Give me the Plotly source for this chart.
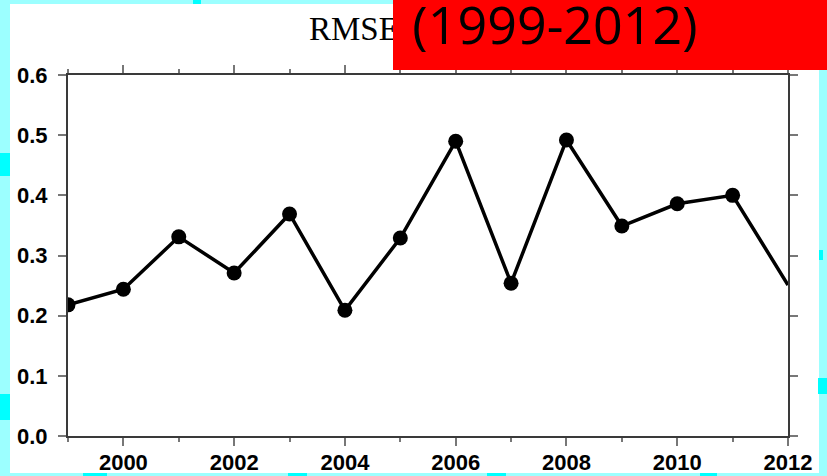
import plotly.graph_objects as go

# Annual RMSE, 1999-2012
years = list(range(1999, 2013))
rmse = [0.218, 0.244, 0.331, 0.271, 0.369, 0.209, 0.329,
        0.490, 0.254, 0.492, 0.349, 0.386, 0.400, 0.251]
marker_sizes = [15] * 13 + [0]

y_ticks = [0.0, 0.1, 0.2, 0.3, 0.4, 0.5, 0.6]
x_ticks = [2000, 2002, 2004, 2006, 2008, 2010, 2012]

W, H = 827, 476
L, R, T, B = 68, 39, 75, 40
PW, PH = W - L - R, H - T - B


def px(x0, y0, x1, y1):
    """Pixel box -> paper coordinates."""
    return dict(x0=(x0 - L) / PW, x1=(x1 - L) / PW,
                y0=1 - (y0 - T) / PH, y1=1 - (y1 - T) / PH,
                xref="paper", yref="paper")


LIGHT_CYAN = "#9cffff"
CYAN = "#00ffff"

shapes = [
    # white page on the cyan frame
    dict(type="rect", **px(10, 4, 819, 473), fillcolor="white",
         line_width=0, layer="below"),
]
# cyan spots along the frame
for box in [(193, 0, 201, 4), (0, 153, 10, 176), (0, 394, 10, 420),
            (818, 378, 827, 394), (819, 250, 823, 260),
            (83, 473, 107, 476), (288, 473, 307, 476),
            (487, 473, 506, 476), (700, 473, 717, 476)]:
    shapes.append(dict(type="rect", **px(*box), fillcolor=CYAN,
                       line_width=0, layer="below"))

shapes += [
    # title text, partly hidden by the red banner
    dict(type="rect", **px(306, 7, 420, 43), fillcolor="rgba(0,0,0,0)",
         line_width=0, layer="above",
         label=dict(text="RMSE", textposition="middle left", padding=0,
                    font=dict(family="Liberation Serif", size=33, color="black"))),
    dict(type="rect", **px(393, 0, 827, 70), fillcolor="#ff0000",
         line_width=0, layer="above"),
    dict(type="rect", **px(405, 2, 705, 52), fillcolor="rgba(0,0,0,0)",
         line_width=0, layer="above",
         label=dict(text="(1999-2012)", textposition="middle center", padding=0,
                    font=dict(family="Open Sans", size=52, color="black"))),
]

fig = go.Figure(go.Scatter(
    x=years, y=rmse, mode="lines+markers",
    line=dict(color="black", width=3.5),
    marker=dict(color="black", size=marker_sizes, opacity=1,
                line=dict(width=0)),
    cliponaxis=True,
))

axis_common = dict(
    showline=True, linecolor="#3a3a3a", linewidth=2, mirror="allticks",
    ticks="outside", tickcolor="#777777", tickwidth=2, ticklen=8,
    showgrid=False, zeroline=False,
    tickfont=dict(family="Liberation Sans", size=22, color="black", weight="bold"),
)

fig.update_xaxes(range=[1999, 2012], tickvals=x_ticks, ticktext=[str(v) for v in x_ticks],
                 minor=dict(dtick=1, tick0=1999, ticks="outside", ticklen=4,
                            tickcolor="#777777", tickwidth=2),
                 ticklabelstandoff=-2, **axis_common)
fig.update_yaxes(range=[0, 0.6], tickvals=y_ticks, ticktext=[f"{v:.1f}" for v in y_ticks],
                 ticklabelstandoff=6, **axis_common)

fig.update_layout(
    width=W, height=H,
    margin=dict(l=L, r=R, t=T, b=B, autoexpand=False),
    paper_bgcolor=LIGHT_CYAN, plot_bgcolor="white",
    showlegend=False, shapes=shapes,
)

fig.write_html("out.html")
